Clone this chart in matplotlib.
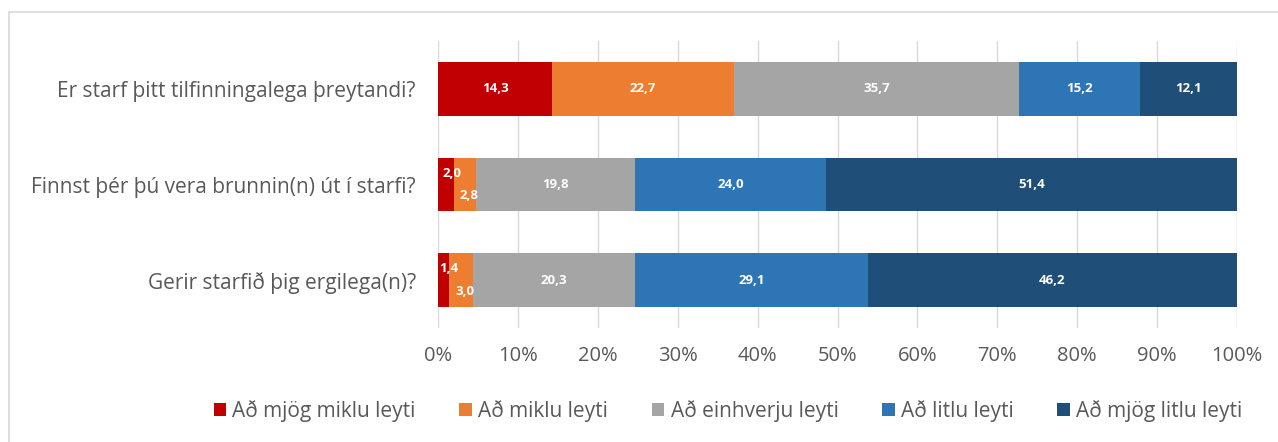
import matplotlib.pyplot as plt
from matplotlib.patches import Rectangle

questions = ["Er starf þitt tilfinningalega þreytandi?",
             "Finnst þér þú vera brunnin(n) út í starfi?",
             "Gerir starfið þig ergilega(n)?"]
levels = ["Að mjög miklu leyti", "Að miklu leyti", "Að einhverju leyti",
          "Að litlu leyti", "Að mjög litlu leyti"]
mjog_miklu = [14.3, 2.0, 1.4]
miklu = [22.7, 2.8, 3.0]
einhverju = [35.7, 19.8, 20.3]
litlu = [15.2, 24.0, 29.1]
mjog_litlu = [12.1, 51.4, 46.2]
colors = ["#C00000", "#ED7D31", "#A5A5A5", "#2E75B6", "#1F4E79"]

plt.rcParams['font.family'] = ['Open Sans', 'DejaVu Sans']

fig = plt.figure(figsize=(12.78, 4.42), dpi=100)
ax = fig.add_axes([438/1278, 1 - 328/442, 799/1278, 287/442])

# light frame of the chart area
fig.patches.append(Rectangle((9/1278, -0.1), 1.1, 1 - 12/442 + 0.1, transform=fig.transFigure,
                             fill=False, edgecolor="#D9D9D9", linewidth=1.2))

series = [mjog_miklu, miklu, einhverju, litlu, mjog_litlu]
y = list(range(len(questions)))
left = [0.0] * len(questions)
for i, vals in enumerate(series):
    ax.barh(y, vals, left=left, height=0.56, color=colors[i], label=levels[i], zorder=3)
    for j, v in enumerate(vals):
        cx = left[j] + v / 2
        dy = 0
        if v < 5:
            # small segments: labels shifted up/down so they do not overlap
            dy = -0.12 if i == 0 else 0.12
            cx = left[j] + v / 2 + (0.7 if i == 0 else 0.5)
        ax.text(cx, j + dy, f"{v:.1f}".replace(".", ","), ha="center", va="center",
                color="white", fontsize=9.5, fontweight="bold", zorder=4)
    left = [l + v for l, v in zip(left, vals)]

ax.set_xlim(0, 100)
ax.set_ylim(2.5, -0.5)
ax.set_yticks(y)
ax.set_yticklabels(questions, fontsize=15, color="#595959")
ax.set_xticks(range(0, 101, 10))
ax.set_xticklabels([f"{t}%" for t in range(0, 101, 10)], fontsize=14.5, color="#595959")
ax.tick_params(axis="both", length=0)
ax.tick_params(axis="x", pad=13)
ax.tick_params(axis="y", pad=16)
ax.grid(axis="x", color="#D9D9D9", linewidth=1, zorder=0)
for s in ax.spines.values():
    s.set_visible(False)

fig.legend(loc="center", bbox_to_anchor=(728/1278, 1 - 411/442), ncol=5, frameon=False,
           fontsize=15, handlelength=0.6, handleheight=0.6, handletextpad=0.3,
           columnspacing=2.1, labelcolor="#595959")

fig.savefig("out.png", dpi=100)
